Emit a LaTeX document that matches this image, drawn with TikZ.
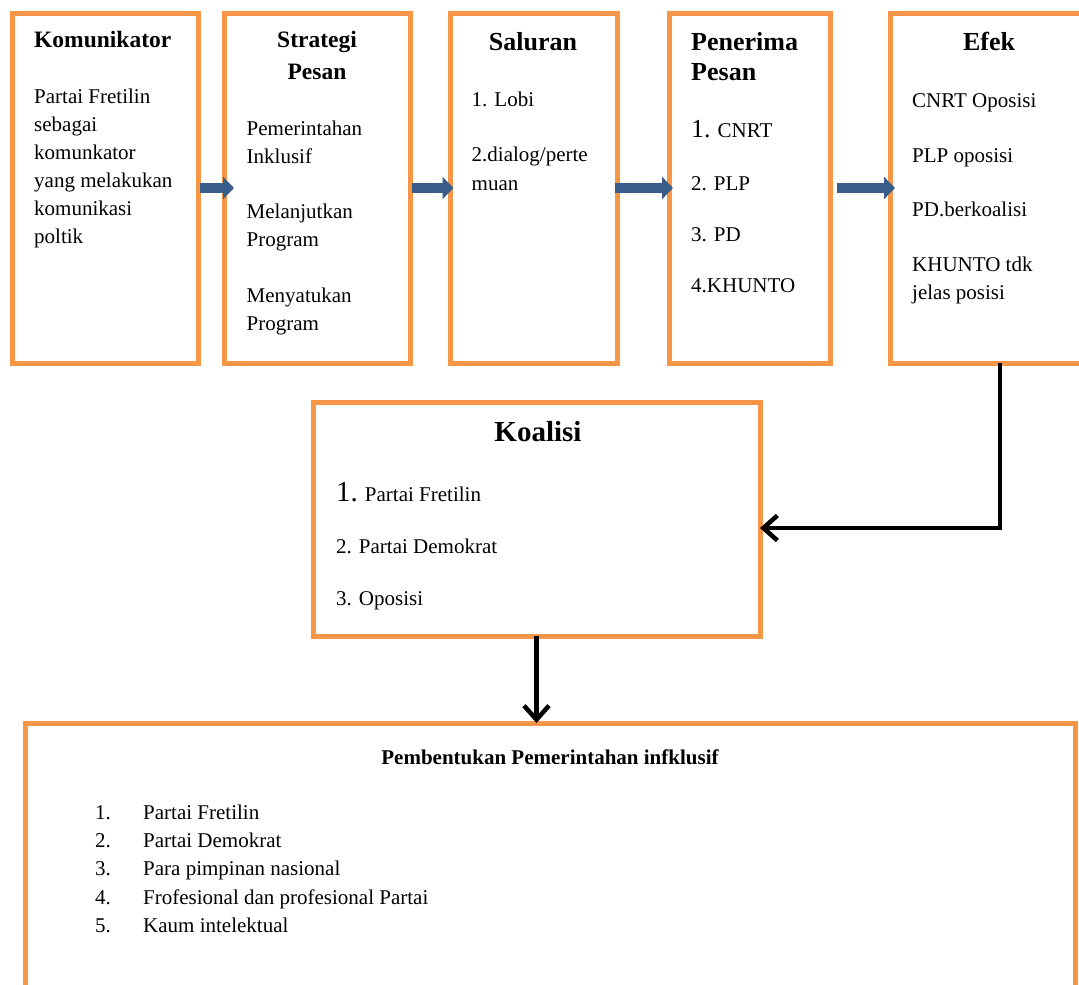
\documentclass[tikz,border=0pt]{standalone}
\usepackage{fontspec}
\setmainfont{Liberation Serif}
\usetikzlibrary{arrows.meta}
\definecolor{orng}{HTML}{F79646}
\definecolor{blu}{HTML}{385D8A}
\begin{document}
\begin{tikzpicture}[x=1pt,y=-1pt,
  box/.style={draw=orng, line width=5pt, fill=white, rectangle, outer sep=0pt, inner sep=0pt},
  body/.style={anchor=base west, inner sep=0pt, font=\fontsize{21}{25}\selectfont},
  ttlA/.style={inner sep=0pt, font=\fontsize{23.5}{28}\selectfont\bfseries},
  ttlB/.style={inner sep=0pt, font=\fontsize{26}{30}\selectfont\bfseries},
  flow/.style={draw=blu, line width=10pt, -{Triangle[length=11pt,width=22pt]}},
  link/.style={draw=black, line width=4.5pt, -{Straight Barb[length=14pt,width=25pt]}}]

\useasboundingbox (0,0) rectangle (1079,985);
\clip (0,0) rectangle (1079,985);
\fill[white] (0,0) rectangle (1079,985);

% boxes
\node[box, minimum width=186.5pt, minimum height=350pt] (komu) at (105.25,188) {};
\node[box, minimum width=186pt, minimum height=350pt] (strat) at (317,188) {};
\node[box, minimum width=167pt, minimum height=350pt] (salur) at (533.5,188) {};
\node[box, minimum width=161pt, minimum height=350pt] (pener) at (749.5,188) {};
\node[box, minimum width=205pt, minimum height=350pt] (efek) at (992.5,188) {};
\node[box, minimum width=447pt, minimum height=234pt] (koal) at (536.5,519) {};
\node[box, minimum width=1050pt, minimum height=287pt] (bot) at (550,866.5) {};

% blue flow arrows
\draw[flow, shorten >=-10pt, shorten <=1.5pt] (komu.east) -- (strat.west);
\draw[flow, shorten >=-3.5pt, shorten <=2pt] (strat.east) -- (salur.west);
\draw[flow, shorten >=-4pt, shorten <=-2pt] (salur.east) -- (pener.west);
\draw[flow, shorten >=-5pt, shorten <=7pt] (pener.east) -- (efek.west);

% black links
\draw[link] ([xshift=7.5pt]efek.south) |- ([yshift=-9pt]koal.east);
\draw[link] (koal.south) -- (koal.south |- bot.north);

% Box 1
\node[ttlA, anchor=base west] (k0) at (34,47.5) {Komunikator};
\node[body] (k1) at (34,103) {Partai Fretilin};
\node[body] (k2) at (34,131) {sebagai};
\node[body] (k3) at (34,159) {komunkator};
\node[body] (k4) at (34,187) {yang melakukan};
\node[body] (k5) at (34,215) {komunikasi};
\node[body] (k6) at (34,243) {poltik};

% Box 2
\node[ttlA, anchor=base] (s0) at (317,47.5) {Strategi};
\node[ttlA, anchor=base] (s0b) at (317,79) {Pesan};
\node[body] (s1) at (246.5,135) {Pemerintahan};
\node[body] (s2) at (246.5,163) {Inklusif};
\node[body] (s3) at (246.5,218) {Melanjutkan};
\node[body] (s4) at (246.5,246) {Program};
\node[body] (s5) at (246.5,302) {Menyatukan};
\node[body] (s6) at (246.5,330) {Program};

% Box 3
\node[ttlB, anchor=base] (l0) at (533,50) {Saluran};
\node[body] (l1) at (471.5,106.5) {1. Lobi};
\node[body] (l2) at (471.5,161.5) {2.dialog/perte};
\node[body] (l3) at (471.5,190) {muan};

% Box 4
\node[ttlB, anchor=base west] (p0) at (691,50) {Penerima};
\node[ttlB, anchor=base west] (p0b) at (691,80.5) {Pesan};
\node[body] (p1) at (691,137.5) {{\fontsize{26}{30}\selectfont 1.} CNRT};
\node[body] (p2) at (691,190) {2. PLP};
\node[body] (p3) at (691,241) {3. PD};
\node[body] (p4) at (691,292) {4.KHUNTO};

% Box 5
\node[ttlB, anchor=base] (e0) at (989,50) {Efek};
\node[body] (e1) at (912,107) {CNRT Oposisi};
\node[body] (e2) at (912,162) {PLP oposisi};
\node[body] (e3) at (912,216.5) {PD.berkoalisi};
\node[body] (e4) at (912,271) {KHUNTO tdk};
\node[body] (e5) at (912,299) {jelas posisi};

% Koalisi
\node[inner sep=0pt, anchor=base, font=\fontsize{29}{34}\selectfont\bfseries] (q0) at (538,441.5) {Koalisi};
\node[body] (q1) at (336,501.5) {{\fontsize{29}{34}\selectfont 1.} Partai Fretilin};
\node[body] (q2) at (336,553) {2. Partai Demokrat};
\node[body] (q3) at (336,605.5) {3. Oposisi};

% Bottom box
\node[inner sep=0pt, anchor=base, font=\fontsize{21}{25}\selectfont\bfseries] (b0) at (550,764) {Pembentukan Pemerintahan infklusif};
\node[body] (bn1) at (95,819) {1.};
\node[body] (bn2) at (95,847.5) {2.};
\node[body] (bn3) at (95,875.5) {3.};
\node[body] (bn4) at (95,904) {4.};
\node[body] (bn5) at (95,932) {5.};
\node[body] (bt1) at (143,819) {Partai Fretilin};
\node[body] (bt2) at (143,847.5) {Partai Demokrat};
\node[body] (bt3) at (143,875.5) {Para pimpinan nasional};
\node[body] (bt4) at (143,904) {Frofesional dan profesional Partai};
\node[body] (bt5) at (143,932) {Kaum intelektual};
\end{tikzpicture}
\end{document}
